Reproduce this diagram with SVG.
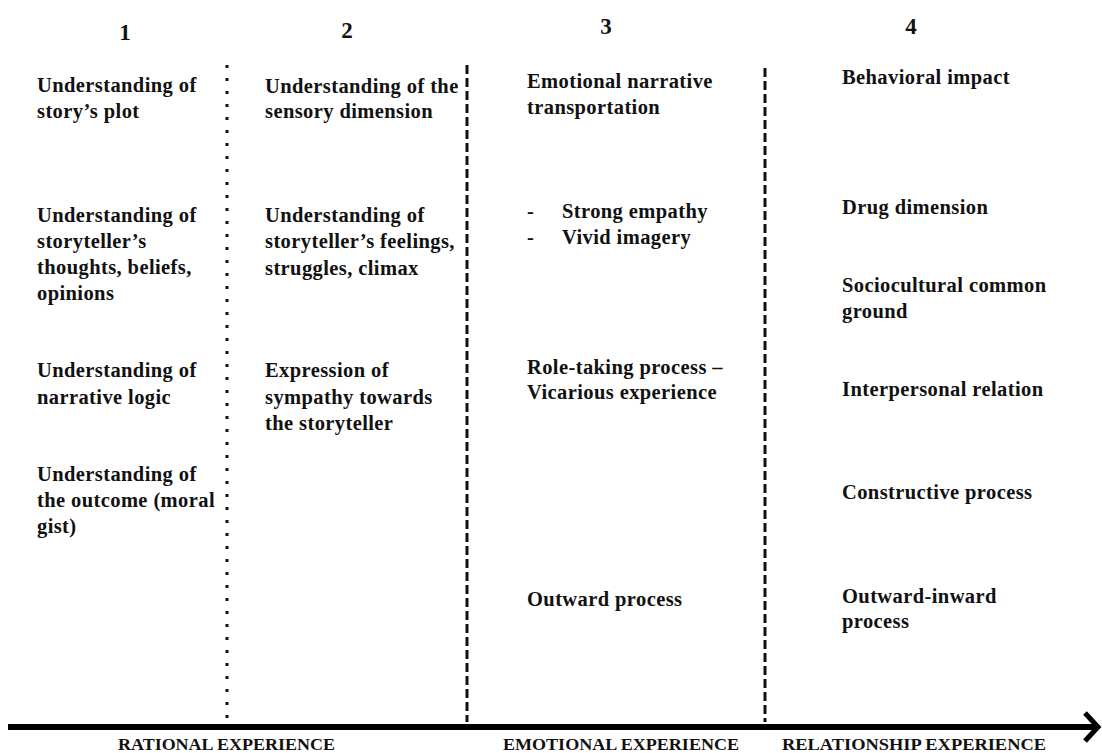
<svg xmlns="http://www.w3.org/2000/svg" width="1102" height="753" viewBox="0 0 1102 753">
<style>
.t{font-family:"Liberation Serif","Times New Roman",serif;font-weight:bold;font-size:20.5px;letter-spacing:0.4px;fill:#111}
.h{font-family:"Liberation Serif","Times New Roman",serif;font-weight:bold;font-size:23px;fill:#111}
.b{font-family:"Liberation Serif","Times New Roman",serif;font-weight:bold;font-size:16px;fill:#111}
</style>
<rect width="1102" height="753" fill="#fff"/>
<g id="connectors">
<line x1="227" y1="65" x2="227" y2="722" stroke="#111" stroke-width="3" stroke-dasharray="3,10"/>
<line x1="467" y1="65" x2="467" y2="722" stroke="#111" stroke-width="3" stroke-dasharray="9,4"/>
<line x1="765" y1="68" x2="765" y2="722" stroke="#111" stroke-width="3" stroke-dasharray="9,4"/>
<line x1="8" y1="727" x2="1096" y2="727" stroke="#000" stroke-width="6"/>
<polyline points="1085,713 1098,727 1085,741" fill="none" stroke="#000" stroke-width="5"/>
</g>
<g id="headers">
<text class="h" x="125" y="40" text-anchor="middle">1</text>
<text class="h" x="347" y="38" text-anchor="middle">2</text>
<text class="h" x="606" y="34" text-anchor="middle">3</text>
<text class="h" x="911" y="34" text-anchor="middle">4</text>
</g>
<g id="col1">
<text class="t" x="37" y="92">Understanding of</text>
<text class="t" x="37" y="118">story’s plot</text>
<text class="t" x="37" y="222">Understanding of</text>
<text class="t" x="37" y="248">storyteller’s</text>
<text class="t" x="37" y="274">thoughts, beliefs,</text>
<text class="t" x="37" y="300">opinions</text>
<text class="t" x="37" y="377">Understanding of</text>
<text class="t" x="37" y="404">narrative logic</text>
<text class="t" x="37" y="481">Understanding of</text>
<text class="t" x="37" y="507">the outcome (moral</text>
<text class="t" x="37" y="533">gist)</text>
</g>
<g id="col2">
<text class="t" x="265" y="93">Understanding of the</text>
<text class="t" x="265" y="118">sensory dimension</text>
<text class="t" x="265" y="222">Understanding of</text>
<text class="t" x="265" y="248">storyteller’s feelings,</text>
<text class="t" x="265" y="275">struggles, climax</text>
<text class="t" x="265" y="377">Expression of</text>
<text class="t" x="265" y="404">sympathy towards</text>
<text class="t" x="265" y="430">the storyteller</text>
</g>
<g id="col3">
<text class="t" x="527" y="88">Emotional narrative</text>
<text class="t" x="527" y="114">transportation</text>
<text class="t" x="527" y="218">-</text>
<text class="t" x="562" y="218">Strong empathy</text>
<text class="t" x="527" y="244">-</text>
<text class="t" x="562" y="244">Vivid imagery</text>
<text class="t" x="527" y="374">Role-taking process –</text>
<text class="t" x="527" y="399">Vicarious experience</text>
<text class="t" x="527" y="606">Outward process</text>
</g>
<g id="col4">
<text class="t" x="842" y="84">Behavioral impact</text>
<text class="t" x="842" y="214">Drug dimension</text>
<text class="t" x="842" y="292">Sociocultural common</text>
<text class="t" x="842" y="318">ground</text>
<text class="t" x="842" y="396">Interpersonal relation</text>
<text class="t" x="842" y="499">Constructive process</text>
<text class="t" x="842" y="603">Outward-inward</text>
<text class="t" x="842" y="628">process</text>
</g>
<g id="axis-labels">
<text class="b" x="118" y="750" textLength="217" lengthAdjust="spacingAndGlyphs">RATIONAL EXPERIENCE</text>
<text class="b" x="503" y="750" textLength="236" lengthAdjust="spacingAndGlyphs">EMOTIONAL EXPERIENCE</text>
<text class="b" x="782" y="750" textLength="264" lengthAdjust="spacingAndGlyphs">RELATIONSHIP  EXPERIENCE</text>
</g>
</svg>
